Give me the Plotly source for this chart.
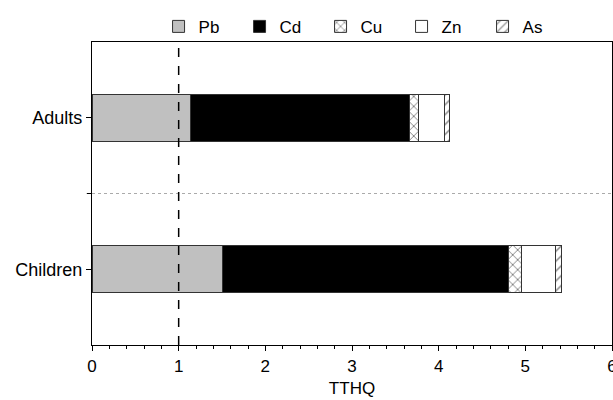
import plotly.graph_objects as go

groups = ["Children", "Adults"]
metals = ["Pb", "Cd", "Cu", "Zn", "As"]
pb = [1.50, 1.14]
cd = [3.30, 2.52]
cu = [0.15, 0.11]
zn = [0.40, 0.30]
as_ = [0.07, 0.05]
x_ticks = [0, 1, 2, 3, 4, 5, 6]

series = {"Pb": pb, "Cd": cd, "Cu": cu, "Zn": zn, "As": as_}
styles = {
    "Pb": dict(color="#c0c0c0"),
    "Cd": dict(color="#000000"),
    "Cu": dict(color="white", pattern=dict(shape="x", fgcolor="#000", bgcolor="white", size=7, solidity=0.25)),
    "Zn": dict(color="white"),
    "As": dict(color="white", pattern=dict(shape="/", fgcolor="#000", bgcolor="white", size=7, solidity=0.2)),
}

fig = go.Figure()
for m in metals:
    fig.add_trace(go.Bar(
        y=groups, x=series[m], name=m, orientation="h", width=0.31,
        marker=dict(**styles[m], line=dict(color="#333333", width=1)),
    ))

font = "Liberation Sans, Arial, sans-serif"
fig.update_layout(
    barmode="stack",
    width=613, height=400,
    margin=dict(l=92, r=1, t=42, b=55, autoexpand=False),
    plot_bgcolor="white", paper_bgcolor="white",
    font=dict(family=font, size=17, color="#000"),
    legend=dict(orientation="h", x=0.128, xanchor="left", y=1.05, yanchor="middle",
                font=dict(size=17), entrywidth=36, entrywidthmode="pixels",
                itemwidth=30, bgcolor="rgba(0,0,0,0)", traceorder="normal"),
    xaxis=dict(range=[0, 6], tickvals=x_ticks, ticks="outside", ticklen=5, tickwidth=1,
               tickcolor="#000", showline=True, linecolor="#000", linewidth=1.2, mirror=True,
               showgrid=False, zeroline=False, tickfont=dict(size=17), automargin=False,
               ticklabeloverflow="allow",
               title=dict(text="TTHQ", font=dict(size=17), standoff=7),
               minor=dict(dtick=0.2, ticks="outside", ticklen=3, tickcolor="#000", showgrid=False)),
    yaxis=dict(categoryorder="array", categoryarray=groups, range=[-0.5, 1.5],
               ticks="outside", ticklen=5, tickcolor="#000", showline=True, linecolor="#000",
               linewidth=1.2, mirror=True, showgrid=False, zeroline=False, automargin=False,
               tickfont=dict(size=18)),
)

# reference line at TTHQ = 1
fig.add_shape(type="line", xref="x", yref="paper", x0=1, x1=1, y0=0, y1=1,
              line=dict(color="#000", width=1.5, dash="dash"), layer="above")
# separator between groups
fig.add_shape(type="line", xref="paper", yref="y", x0=0, x1=1, y0=0.5, y1=0.5,
              line=dict(color="#aaaaaa", width=1, dash="dot"), layer="below")
fig.add_shape(type="line", xref="paper", yref="y", x0=-0.01, x1=0, y0=0.5, y1=0.5,
              line=dict(color="#000", width=1), layer="above")

fig.write_html("out.html", config={"displayModeBar": False},
               post_script="document.body.style.margin='0';document.body.style.overflow='hidden';")
